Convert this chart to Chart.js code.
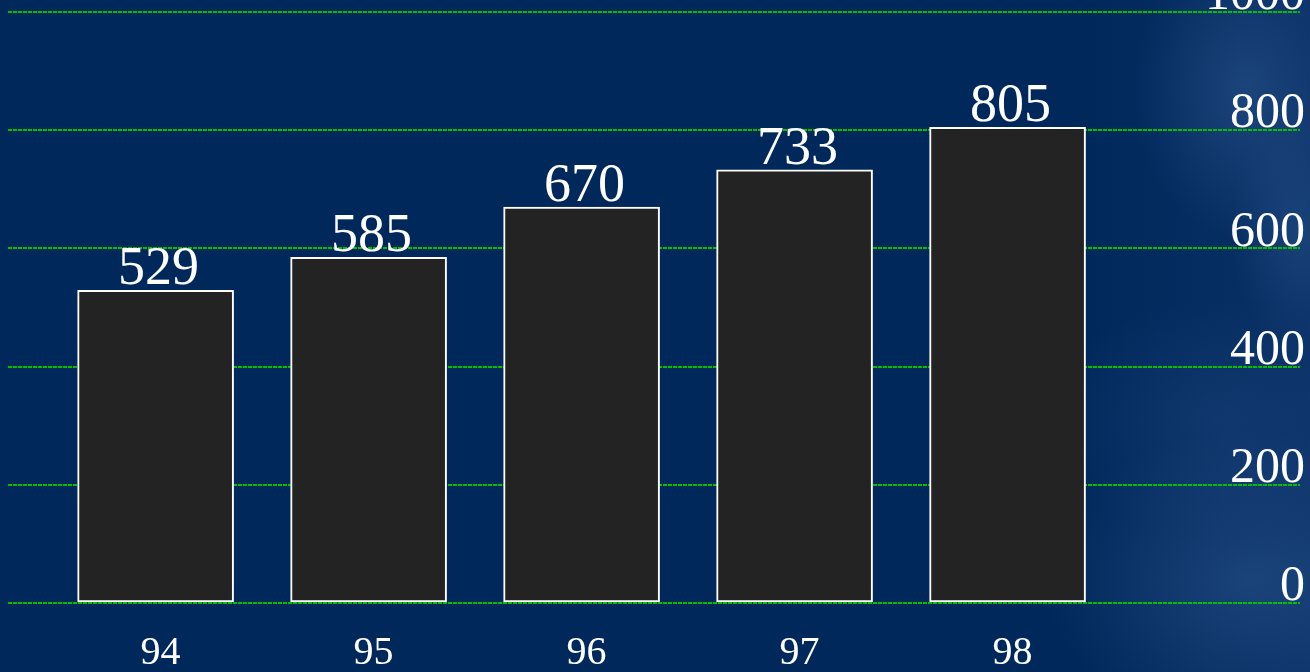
<!DOCTYPE html>
<html lang="en">
<head>
    <meta charset="UTF-8">
    <title>94-98</title>
    <script src="https://cdn.jsdelivr.net/npm/chart.js"></script>
    <style>
        html, body {
            margin: 0;
            padding: 0;
            overflow: hidden;
        }

        .stage {
            position: relative;
            width: 1310px;
            height: 672px;
            background-color: #01285a;
            background-image:
                radial-gradient(ellipse 110px 150px at 1245px 90px, rgba(75, 120, 180, 0.3), rgba(75, 120, 180, 0) 100%),
                radial-gradient(ellipse 70px 120px at 1300px 230px, rgba(75, 120, 180, 0.25), rgba(75, 120, 180, 0) 100%),
                radial-gradient(ellipse 210px 150px at 1250px 580px, rgba(70, 115, 175, 0.3), rgba(70, 115, 175, 0) 100%),
                radial-gradient(ellipse 180px 120px at 1220px 420px, rgba(55, 95, 155, 0.22), rgba(55, 95, 155, 0) 100%),
                linear-gradient(90deg, rgba(20, 60, 120, 0) 0px, rgba(20, 60, 120, 0) 1080px, rgba(25, 65, 125, 0.35) 1310px);
        }
    </style>
</head>
<body>
    <div class="stage">
        <canvas id="salesChart" width="1310" height="672"></canvas>
    </div>

    <script>
        // years on the x axis and the value of each bar
        const years = ['94', '95', '96', '97', '98'];
        const totals = [529, 585, 670, 733, 805];

        // value axis
        const yMin = 0;
        const yMax = 1000;
        const yStep = 200;

        const serif = "'Liberation Serif', 'Times New Roman', serif";

        // writes the value above each bar
        const barValues = {
            id: 'barValues',
            afterDatasetsDraw(chart) {
                const ctx = chart.ctx;
                const meta = chart.getDatasetMeta(0);
                ctx.save();
                ctx.fillStyle = '#ffffff';
                ctx.font = '54px ' + serif;
                ctx.textAlign = 'center';
                ctx.textBaseline = 'alphabetic';
                meta.data.forEach((bar, i) => {
                    ctx.fillText(String(totals[i]), bar.x + 3, bar.y - 6);
                });
                ctx.restore();
            }
        };

        const points = totals.map((v, i) => ({ x: i, y: v }));

        new Chart(document.getElementById('salesChart'), {
            type: 'bar',
            data: {
                datasets: [{
                    data: points,
                    backgroundColor: '#232323',
                    borderColor: '#ffffff',
                    borderWidth: 2,
                    borderSkipped: false,
                    barThickness: 156
                }]
            },
            options: {
                responsive: false,
                animation: false,
                layout: {
                    padding: { left: 8, top: 12, right: 0, bottom: 0 }
                },
                plugins: {
                    legend: { display: false },
                    tooltip: { enabled: false }
                },
                scales: {
                    x: {
                        type: 'linear',
                        offset: false,
                        min: -0.693,
                        max: 5.373,
                        afterBuildTicks: (scale) => {
                            scale.ticks = years.map((_, i) => ({ value: i }));
                        },
                        afterFit: (scale) => {
                            scale.height = 69;
                        },
                        grid: { display: false, drawTicks: false },
                        border: { display: false },
                        ticks: {
                            callback: (v) => years[v],
                            color: '#ffffff',
                            font: { family: serif, size: 40, lineHeight: 1.2 },
                            padding: 26,
                            labelOffset: 5,
                            maxRotation: 0,
                            autoSkip: false
                        }
                    },
                    y: {
                        position: 'right',
                        min: yMin,
                        max: yMax,
                        grid: {
                            color: '#00c000',
                            lineWidth: 2,
                            drawTicks: false
                        },
                        border: { display: false, dash: [4, 1] },
                        ticks: {
                            stepSize: yStep,
                            mirror: true,
                            padding: 5,
                            labelOffset: -16,
                            color: '#ffffff',
                            callback: (v) => String(v),
                            font: { family: serif, size: 50, lineHeight: 0.1 }
                        }
                    }
                }
            },
            plugins: [barValues]
        });
    </script>
</body>
</html>
